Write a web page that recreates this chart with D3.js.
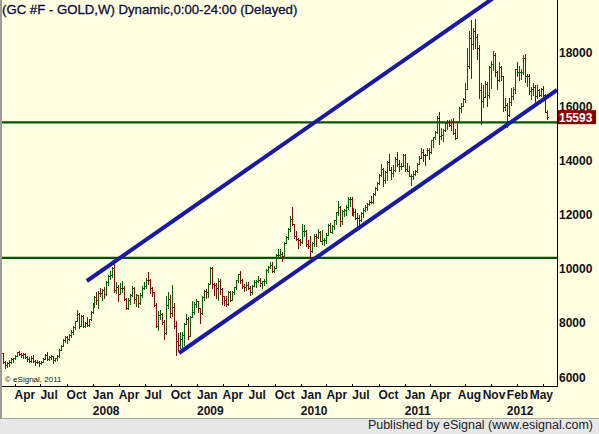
<!DOCTYPE html>
<html>
<head>
<meta charset="utf-8">
<script src="https://cdn.jsdelivr.net/npm/d3@7"></script>
<style>
  body { margin: 0; background: #fff; }
  svg { display: block; font-family: "Liberation Sans", Arial, sans-serif; }
</style>
</head>
<body>
<svg id="chart" width="599" height="434"></svg>
<script>
// weekly bars, GC #F, first bar = week of 19 Feb 2007, open of each week = previous close
const firstWeek = "2007-02-19";
const firstOpen = 6880;

const weekClose = [
  6560,6450,6520,6560,6650,6690,6790,6910,6850,6810,6850,6730,6650,6580,6720,6580,6560,6560,6510,6570,6680,6830,6680,6730,6780,6640,6700,6760,7010,7160,7380,7480,7420,7560,7670,7860,8070,8340,7900,8250,7880,8000,7930,8130,8400,8670,
  8970,8850,9110,9090,9230,9080,9500,9740,9760,10020,9210,9340,9060,9270,9280,8890,8550,8860,9020,9290,8880,9030,8720,9040,9300,9350,9600,9570,9270,9130,8660,7890,8300,8340,8040,7630,8660,8880,8360,8600,7880,7330,7170,7420,7540,7950,8160,7520,8220,8400,8700,8790,
  8540,8380,8950,9190,9140,9420,10010,9420,9400,9300,9540,9240,8990,8830,8700,9130,8850,9150,9310,9590,9790,9600,9360,9340,9410,9290,9130,9370,9520,9540,9580,9480,9530,9550,9960,10070,10130,9920,10040,10510,10520,10560,10450,10960,11180,11480,11830,11640,11190,11100,11050,10980,
  11380,11400,10920,10840,10660,10930,11200,11180,11340,11030,11060,11070,11260,11610,11370,11570,11800,12090,12280,11770,12130,12180,12290,12560,12560,12080,12090,11880,11880,11810,12040,12150,12280,12370,12470,12460,12750,12970,13180,13460,13690,13270,13580,13940,13650,13520,13630,14060,13850,13780,13800,14210,
  13690,13610,13420,13420,13480,13600,13880,14100,14290,14210,14180,14370,14290,14740,14860,15040,15560,14910,14930,15110,15360,15420,15290,15400,15020,14830,15420,15940,16010,16280,16620,17470,18530,18280,18760,18560,18140,16580,16200,16350,16820,16420,17460,17540,17880,17250,16960,17460,17100,15980,16060,15660,
  16170,16390,16650,17380,17250,17250,17250,17790,17100,17110,16570,16620,16690,16390,16600,16420,16640,16420,15800,15593
];

const weekHigh = [
  6900,6600,6560,6620,6700,6720,6820,6940,6960,6900,6880,6890,6760,6730,6760,6800,6640,6640,6580,6600,6690,6840,6930,6780,6820,6790,6720,6800,7050,7200,7420,7520,7510,7600,7730,7890,8080,8470,8360,8300,8300,8040,8200,8150,8420,8720,
  9000,9140,9170,9300,9250,9310,9540,9770,9900,10050,10330,9500,9400,9480,9560,9350,8920,8900,9050,9370,9320,9060,9040,9100,9360,9510,9640,9890,9620,9320,9150,8730,8420,8480,8360,8100,9000,9150,9040,9400,8730,8080,7620,7650,7680,8000,8320,8220,8240,8820,8770,8880,
  8800,8560,9000,9210,9250,9480,10070,10060,9470,9480,9660,9620,9300,8990,8990,9160,9170,9190,9340,9600,9820,9930,9620,9450,9520,9500,9370,9390,9580,9580,9720,9640,9560,9620,9980,10110,10240,10230,10100,10550,10710,10720,10620,10970,11200,11520,11950,12270,11660,11380,11120,11110,
  11640,11620,11440,11050,11200,10980,11270,11280,11470,11400,11410,11120,11330,11640,11700,11600,11800,12110,12490,12330,12160,12200,12340,12640,12650,12650,12230,12190,12050,12000,12090,12250,12350,12410,12550,12690,12810,13010,13210,13500,13880,13710,13600,13980,14240,13770,13810,14120,14320,14000,13900,14240,
  14230,13890,13780,13500,13620,13660,13900,14150,14450,14410,14240,14470,14470,14760,14880,15080,15640,15770,15210,15160,15400,15500,15490,15520,15570,15140,15450,15960,16100,16300,16840,18150,18780,19170,18890,19230,18680,18240,16850,16780,16920,16900,17500,17670,18030,17960,17290,17630,17500,17110,16290,16120,
  16290,16660,16700,17390,17620,17490,17380,17900,17920,17190,17180,16700,16860,16800,16780,16640,16680,16760,16450,15870
];

const weekLow = [
  6520,6330,6370,6400,6530,6570,6660,6780,6800,6740,6700,6690,6600,6550,6560,6540,6450,6520,6420,6490,6560,6670,6620,6620,6660,6530,6600,6620,6750,6980,7150,7280,7270,7360,7480,7580,7790,8050,7800,7880,7850,7830,7880,7890,8100,8380,
  8580,8700,8530,9000,8860,8930,9010,9400,9610,9690,9150,9120,8800,9050,9130,8830,8520,8520,8690,9000,8740,8640,8580,8710,8940,9240,9270,9450,9090,9000,8640,7860,7720,8140,7950,7400,7600,8530,8220,8260,7800,6810,6980,7080,7040,7200,7940,7400,7500,8200,8340,8600,
  8400,7980,8330,8830,8920,8950,9420,9280,9040,8900,8860,9070,8710,8660,8640,8670,8800,8830,9050,9260,9490,9470,9280,9190,9220,9260,9040,9080,9360,9320,9490,9370,9270,9400,9470,9890,10040,9880,9860,10020,10420,10420,10280,10430,10930,11110,11380,11600,11150,11050,10760,10880,
  10950,11220,10840,10780,10440,10620,10850,10840,11150,11010,10900,10870,10940,11250,11340,11320,11480,11660,12000,11580,11660,11960,12000,12190,12310,12000,11950,11830,11570,11560,11760,11920,12130,12180,12360,12420,12430,12720,12890,13110,13420,13070,13180,13290,13650,13300,13420,13600,13800,13620,13690,13780,
  13620,13590,13420,13090,13300,13470,13560,13880,14070,13980,13820,14180,14040,14260,14500,14800,15010,14620,14800,14720,15070,15150,15250,15120,14960,14780,14820,15400,15770,16000,16170,16620,17400,17050,18110,18150,17750,16300,15330,15960,16340,15990,16310,16680,17340,17100,16640,16920,16980,15820,15850,15230,
  15620,16040,16280,16470,17100,16980,16990,17200,16890,16750,16440,16270,16420,16120,16290,16370,16380,16330,15770,15520
];

// drawn studies: two horizontal levels and a rising channel
const levelLines = [15400, 10400];
const channelUpper = [["2007-12-11", 9545], ["2012-02-09", 20670]];
const channelLower = [["2008-10-30", 6886], ["2012-06-19", 16597]];

const priceTicks = [6000, 8000, 10000, 12000, 14000, 16000, 18000];
const monthTicks = ["2007-04-01","2007-07-01","2007-10-01","2008-01-01","2008-04-01","2008-07-01","2008-10-01",
  "2009-01-01","2009-04-01","2009-07-01","2009-10-01","2010-01-01","2010-04-01","2010-07-01","2010-10-01",
  "2011-01-01","2011-04-01","2011-08-01","2011-11-01","2012-02-01","2012-05-01"];
const lastPrice = 15593;
const title = "(GC #F - GOLD,W) Dynamic,0:00-24:00 (Delayed)";

const width = 599, height = 434;
const plotLeft = 2, plotRight = 557, plotTop = 0, plotBottom = 386;
const parse = d3.timeParse("%Y-%m-%d");
const green = "#006400", red = "#9a0000";

const svg = d3.select("#chart");

// background + footer strip
svg.append("rect").attr("width", width).attr("height", 418).attr("fill", "#ffffe1");
svg.append("rect").attr("x", 0).attr("y", 0).attr("width", 2).attr("height", 418).attr("fill", "#9c9c9c");
svg.append("rect").attr("x", 0).attr("y", 418).attr("width", width).attr("height", 16).attr("fill", "#e8e8e8");
svg.append("line").attr("x1", 0).attr("x2", width).attr("y1", 418.5).attr("y2", 418.5).attr("stroke", "#a8a8a8");
svg.append("text").attr("x", 593).attr("y", 429).attr("text-anchor", "end")
  .attr("font-size", "12.5px").attr("fill", "#222").text("Published by eSignal (www.esignal.com)");

const x = d3.scaleTime()
  .domain([parse("2007-02-09"), parse("2012-06-19")])
  .range([0, plotRight]);
const y = d3.scaleLinear().domain([6000, 18000]).range([377, 52]);

svg.append("clipPath").attr("id", "plotclip")
  .append("rect").attr("x", plotLeft).attr("y", plotTop)
  .attr("width", plotRight - plotLeft).attr("height", plotBottom - plotTop);

const g = svg.append("g").attr("clip-path", "url(#plotclip)");

// horizontal levels
g.selectAll("line.level")
  .data(levelLines)
  .join("line")
  .attr("class", "level")
  .attr("x1", plotLeft).attr("x2", plotRight)
  .attr("y1", d => y(d)).attr("y2", d => y(d))
  .attr("stroke", "#005400").attr("stroke-width", 2.4);

// OHLC bars
const bars = weekClose.map((c, i) => ({
  date: d3.timeMonday.offset(parse(firstWeek), i),
  open: i === 0 ? firstOpen : weekClose[i - 1],
  high: weekHigh[i],
  low: weekLow[i],
  close: c
}));

g.selectAll("path.bar")
  .data(bars)
  .join("path")
  .attr("class", "bar")
  .attr("d", d => {
    const cx = Math.round(x(d.date)) + 0.5;
    const yo = Math.round(y(d.open)) + 0.5, yc = Math.round(y(d.close)) + 0.5;
    return `M${cx},${Math.round(y(d.high))}V${Math.round(y(d.low)) + 1}` +
           `M${cx - 1.5},${yo}H${cx}M${cx},${yc}H${cx + 1.5}`;
  })
  .attr("fill", "none")
  .attr("stroke", d => d.close < d.open ? red : green)
  .attr("stroke-width", 1)
  .attr("shape-rendering", "crispEdges");

// channel lines
const line = d3.line().x(d => x(parse(d[0]))).y(d => y(d[1]));
g.selectAll("path.channel")
  .data([channelUpper, channelLower])
  .join("path")
  .attr("class", "channel")
  .attr("d", line)
  .attr("fill", "none")
  .attr("stroke", "#1a1a9e")
  .attr("stroke-width", 4);

// title and copyright
svg.append("text").attr("x", 2).attr("y", 14)
  .attr("font-size", "13.2px").attr("fill", "#0c0c40")
  .attr("stroke", "#0c0c40").attr("stroke-width", 0.3)
  .text(title);
svg.append("text").attr("x", 5).attr("y", 382)
  .attr("font-size", "8px").attr("fill", "#111").text("\u00a9 eSignal, 2011");

// axis frame
svg.append("line").attr("x1", plotLeft).attr("x2", plotRight + 0.5)
  .attr("y1", plotBottom + 0.5).attr("y2", plotBottom + 0.5).attr("stroke", "#000");
svg.append("line").attr("x1", plotRight + 0.5).attr("x2", plotRight + 0.5)
  .attr("y1", 0).attr("y2", plotBottom + 0.5).attr("stroke", "#000");

// right price scale
svg.selectAll("text.ptick")
  .data(priceTicks)
  .join("text")
  .attr("class", "ptick")
  .attr("x", plotRight + 2).attr("y", d => y(d) + 4.5)
  .attr("font-size", "12px").attr("font-weight", "bold").attr("fill", "#111")
  .text(d => d);

// last price box
const lastY = y(lastPrice);
svg.append("rect").attr("x", plotRight + 1).attr("y", lastY - 7)
  .attr("width", 38).attr("height", 14).attr("fill", "#8b0000");
svg.append("text").attr("x", plotRight + 2).attr("y", lastY + 4.5)
  .attr("font-size", "12px").attr("font-weight", "bold").attr("fill", "#fff")
  .text(lastPrice);

// time axis: ticks at the month, labels left aligned, pushed left where they run out of room
const mt = monthTicks.map(s => parse(s));
svg.selectAll("line.xtick")
  .data(mt)
  .join("line")
  .attr("class", "xtick")
  .attr("x1", d => Math.round(x(d)) + 0.5).attr("x2", d => Math.round(x(d)) + 0.5)
  .attr("y1", plotBottom - 2).attr("y2", plotBottom)
  .attr("stroke", "#000");

const monthLabels = svg.selectAll("text.month")
  .data(mt)
  .join("text")
  .attr("class", "month")
  .attr("x", d => x(d)).attr("y", 399)
  .attr("font-size", "12px").attr("font-weight", "bold").attr("fill", "#141428")
  .text(d => d3.timeFormat("%b")(d));

let limit = plotRight - 4;
const pos = [];
monthLabels.nodes().reverse().forEach((node, k) => {
  const d = mt[mt.length - 1 - k];
  const w = node.getComputedTextLength();
  let left = x(d);
  if (left + w > limit) left = limit - w;
  node.setAttribute("x", left);
  pos[mt.length - 1 - k] = left;
  limit = left - 1.5;
});

// year under the first labelled month of each new year
const yearIdx = mt.map((d, i) => i).filter(i => i > 0 && mt[i].getFullYear() !== mt[i - 1].getFullYear());
svg.selectAll("text.year")
  .data(yearIdx)
  .join("text")
  .attr("class", "year")
  .attr("x", i => pos[i]).attr("y", 415)
  .attr("font-size", "12px").attr("font-weight", "bold").attr("fill", "#141428")
  .text(i => mt[i].getFullYear());
</script>
</body>
</html>
